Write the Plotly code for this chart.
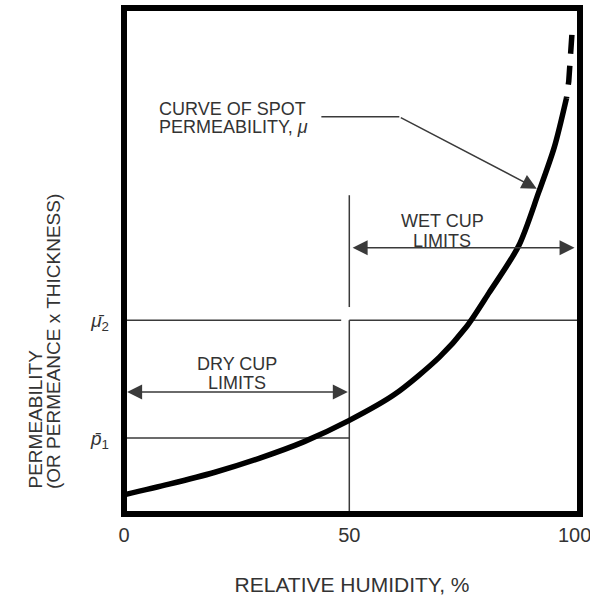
import plotly.graph_objects as go

# ---- data ----
rh_ticks = [0, 50, 100]
rh_tick_text = ["0", "50", "100"]

curve_rh = [0, 10, 20, 30, 40, 50, 60, 70, 76, 81, 87.6, 92, 95.5, 98.2]
curve_perm = [3.8, 5.9, 8.2, 11.0, 14.3, 18.5, 23.6, 31.0, 37.0, 43.7, 53.0, 63.5, 72.5, 82.2]

dashed_rh = [99.4, 99.1, 98.7, 98.2]
dashed_perm = [94.7, 90.0, 85.5, 82.2]

mu2_level = 38.3
p1_level = 15.0
split_rh = 50
dry_arrow_level = 24.1
wet_arrow_level = 52.6
split_top = 63.0
split_gap_top = 40.9
mu2_left_end = 48.2
x_max = 101.2
y_max = 100

level_vals = [mu2_level, p1_level]
level_text = ["<i>\u03bc\u0304</i><sub>2</sub>", "<i>p\u0304</i><sub>1</sub>"]

callout_rh = [43.8, 61.1]
callout_perm = [78.5, 78.5]
callout_tip = (91.6, 64.3)

TXT = "#333333"
LN = "#3a3a3a"
FONT = "Liberation Sans, Arial, sans-serif"

fig = go.Figure()

def seg(xs, ys, w=1.5, color=LN, dash=None):
    fig.add_trace(go.Scatter(x=xs, y=ys, mode="lines",
                             line=dict(color=color, width=w, dash=dash),
                             hoverinfo="skip"))

# guide lines
seg([0, mu2_left_end], [mu2_level, mu2_level])
seg([split_rh, x_max], [mu2_level, mu2_level])
seg([0, split_rh], [p1_level, p1_level])
seg([split_rh, split_rh], [split_top, split_gap_top])
seg([split_rh, split_rh], [mu2_level, 0])
seg(callout_rh, callout_perm)

# curve of spot permeability
fig.add_trace(go.Scatter(x=curve_rh, y=curve_perm, mode="lines",
                         line=dict(color="black", width=5.5, shape="spline", smoothing=0.8),
                         hoverinfo="skip"))
fig.add_trace(go.Scatter(x=dashed_rh, y=dashed_perm, mode="lines",
                         line=dict(color="black", width=5.5, dash="19px,12px"),
                         hoverinfo="skip"))

def arrow(x0, y0, x1, y1, both=False):
    d = dict(x=x1, y=y1, ax=x0, ay=y0, xref="x", yref="y", axref="x", ayref="y",
             text="", showarrow=True, arrowhead=2, arrowsize=2.0, arrowwidth=1.5,
             arrowcolor=LN)
    if both:
        d.update(arrowside="end+start", startarrowhead=2, startarrowsize=2.0)
    fig.add_annotation(**d)

arrow(split_rh, dry_arrow_level, 0.7, dry_arrow_level, both=True)
arrow(split_rh + 0.4, wet_arrow_level, 100, wet_arrow_level, both=True)
arrow(callout_rh[1], callout_perm[1], callout_tip[0], callout_tip[1])

def px2paper(px, py):
    return (px - 124) / 456, (514 - py) / 506

def label(text, px, py, size=18, xanchor="center", angle=0, yanchor="middle"):
    x, y = px2paper(px, py)
    fig.add_annotation(x=x, y=y, xref="paper", yref="paper", text=text,
                       showarrow=False, xanchor=xanchor, yanchor=yanchor,
                       textangle=angle, font=dict(family=FONT, size=size, color=TXT))

label("CURVE OF SPOT", 157, 109, xanchor="left")
label("PERMEABILITY, <i>\u03bc</i>", 157, 127, xanchor="left")
label("DRY CUP", 237, 364)
label("LIMITS", 237, 383)
label("WET CUP", 442, 221)
label("LIMITS", 442, 241)
label("PERMEABILITY", 35, 491, size=19, angle=-90, yanchor="bottom")
label("(OR PERMEANCE x THICKNESS)", 53.5, 491, size=19, angle=-90, yanchor="bottom")

fig.add_shape(type="rect", xref="paper", yref="paper", x0=0, x1=1, y0=0, y1=1,
              line=dict(color="black", width=6), layer="above")

fig.update_layout(
    width=590, height=596,
    margin=dict(l=124, r=10, t=8, b=82, autoexpand=False),
    plot_bgcolor="white", paper_bgcolor="white",
    showlegend=False,
    font=dict(family=FONT, color=TXT),
    xaxis=dict(range=[0, x_max], tickvals=rh_ticks, ticktext=rh_tick_text,
               showgrid=False, zeroline=False, showline=False, ticks="",
               automargin=False,
               tickfont=dict(size=20, color=TXT), ticklabeloverflow="allow",
               ticklabelstandoff=7,
               title=dict(text="RELATIVE HUMIDITY, %", font=dict(size=21, color=TXT),
                          standoff=37)),
    yaxis=dict(range=[0, y_max], tickvals=level_vals, ticktext=level_text,
               showgrid=False, zeroline=False, showline=False, ticks="",
               automargin=False,
               tickfont=dict(size=19, color=TXT), ticklabelstandoff=14),
)

fig.write_html("out.html",
               config={"displayModeBar": False},
               post_script="document.body.style.margin='0px';"
                           "document.body.style.overflow='hidden';")
